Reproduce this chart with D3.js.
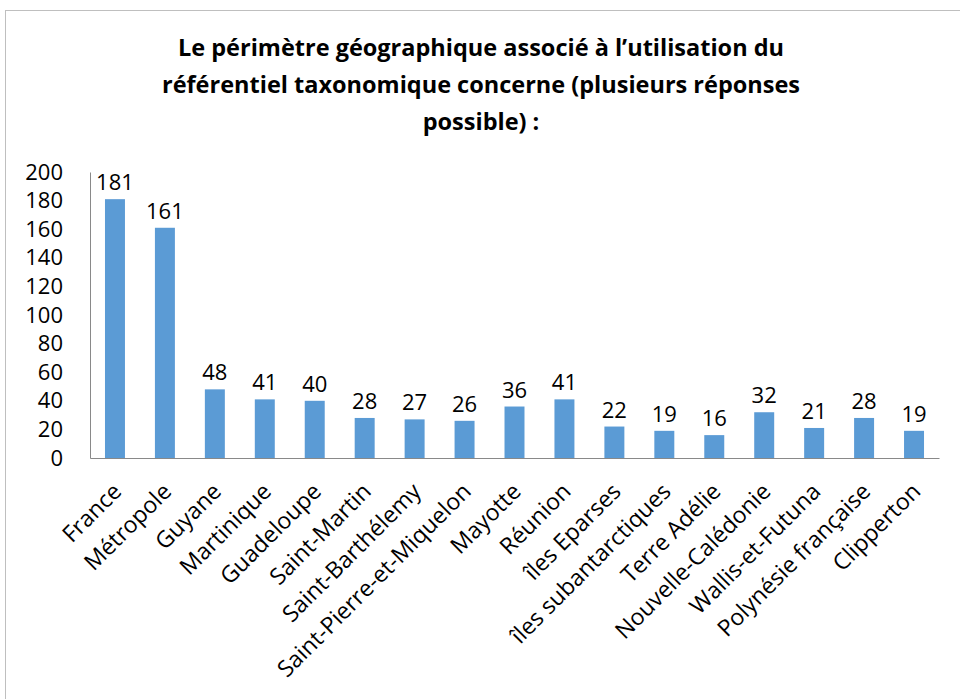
<!DOCTYPE html>
<html>
<head>
<meta charset="utf-8">
<script src="https://cdn.jsdelivr.net/npm/d3@7"></script>
<style>
  body { margin: 0; background: #fff; }
  svg { display: block; font-family: "Open Sans", sans-serif; }
</style>
</head>
<body>
<svg width="960" height="699"></svg>
<script>
// chart data
const categories = ["France", "Métropole", "Guyane", "Martinique", "Guadeloupe", "Saint-Martin",
  "Saint-Barthélemy", "Saint-Pierre-et-Miquelon", "Mayotte", "Réunion", "îles Eparses",
  "îles subantarctiques", "Terre Adélie", "Nouvelle-Calédonie", "Wallis-et-Futuna",
  "Polynésie française", "Clipperton"];
const counts = [181, 161, 48, 41, 40, 28, 27, 26, 36, 41, 22, 19, 16, 32, 21, 28, 19];
const yTicks = [0, 20, 40, 60, 80, 100, 120, 140, 160, 180, 200];
const titleLines = ["Le périmètre géographique associé à l’utilisation du",
  "référentiel taxonomique concerne (plusieurs réponses",
  "possible) :"];

const plot = {left: 90, right: 939, top: 172, bottom: 458};
const svg = d3.select("svg");

// outer chart frame (right/bottom edges fall outside the picture)
svg.append("rect")
  .attr("x", 5.5).attr("y", 10.5)
  .attr("width", 1000).attr("height", 1000)
  .attr("fill", "none").attr("stroke", "#bfbfbf");

// title
svg.append("g").selectAll("text")
  .data(titleLines)
  .join("text")
    .attr("x", 481)
    .attr("y", (d, i) => 56 + i * 37)
    .attr("text-anchor", "middle")
    .style("font-size", "23.5px")
    .style("font-weight", "bold")
    .text(d => d);

const x = d3.scaleBand().domain(categories).range([plot.left, plot.right]).paddingInner(0.6).paddingOuter(0.3);
const y = d3.scaleLinear().domain([0, 200]).range([plot.bottom, plot.top]);

// bars
svg.append("g").selectAll("rect")
  .data(counts)
  .join("rect")
    .attr("x", (d, i) => x(categories[i]))
    .attr("y", d => y(d))
    .attr("width", x.bandwidth())
    .attr("height", d => y(0) - y(d))
    .attr("fill", "#5b9bd5");

// value labels
svg.append("g").selectAll("text")
  .data(counts)
  .join("text")
    .attr("x", (d, i) => x(categories[i]) + x.bandwidth() / 2)
    .attr("y", d => y(d) - 9)
    .attr("text-anchor", "middle")
    .style("font-size", "22px")
    .text(d => d);

// y axis
const yAxis = svg.append("g")
  .attr("transform", `translate(${plot.left},0)`)
  .call(d3.axisLeft(y).tickValues(yTicks).tickSize(0).tickPadding(27));
yAxis.select(".domain").attr("stroke", "#898989");
yAxis.selectAll("text").style("font-size", "22px").style("font-family", "Open Sans").attr("fill", "#000");

// x axis
const xAxis = svg.append("g")
  .attr("transform", `translate(0,${plot.bottom})`)
  .call(d3.axisBottom(x).tickSize(0).tickSizeOuter(0));
xAxis.select(".domain").attr("stroke", "#898989");
xAxis.selectAll("text")
  .style("font-size", "23px").style("font-family", "Open Sans").attr("fill", "#000")
  .attr("text-anchor", "end")
  .attr("dy", "0.6em")
  .attr("transform", "translate(-4,23) rotate(-45)");
</script>
</body>
</html>
